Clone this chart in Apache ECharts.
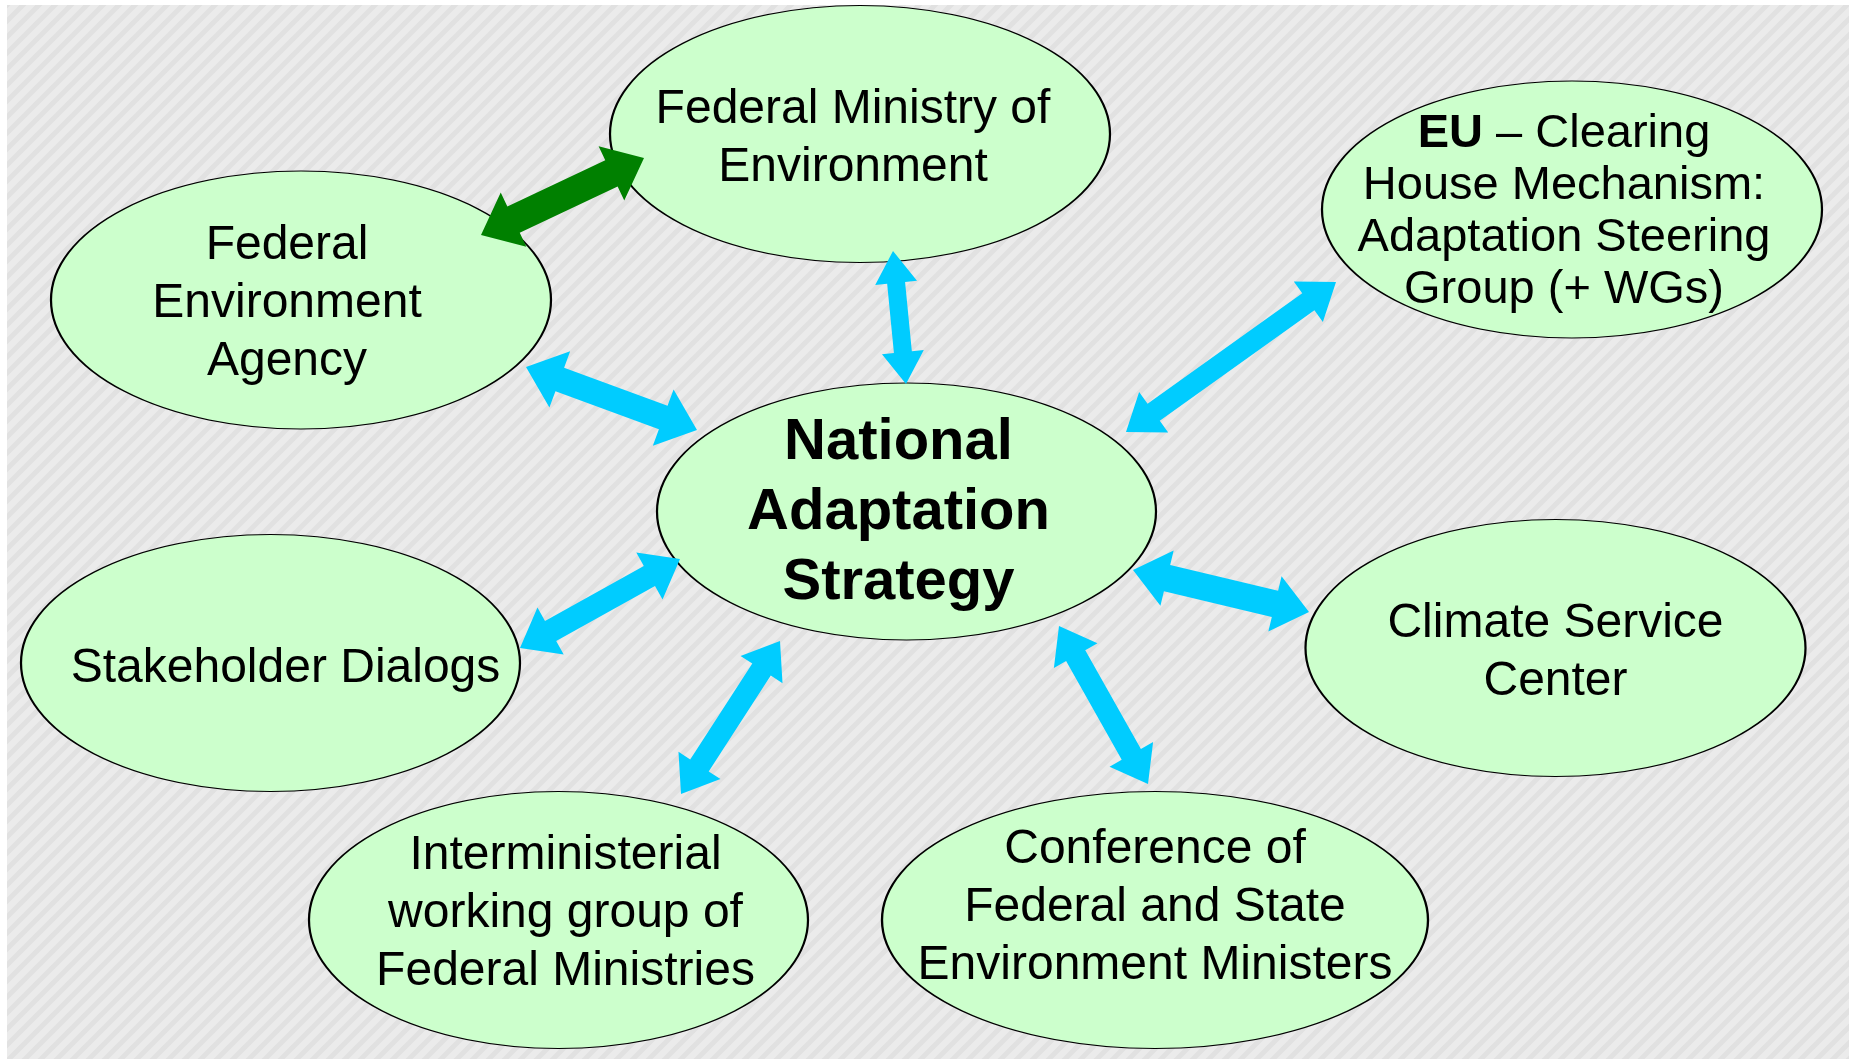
<!DOCTYPE html>
<html>
<head>
<meta charset="utf-8">
<script src="https://cdn.jsdelivr.net/npm/echarts@6/dist/echarts.min.js"></script>
<style>
  html, body { margin: 0; padding: 0; background: #fff; }
  #main { width: 1849px; height: 1059px; }
</style>
</head>
<body>
<div id="main"></div>
<script>
// ellipses of the diagram (centre in picture units)
const nodeNames = ['ministry', 'agency', 'eu', 'national', 'stakeholder', 'climate', 'interministerial', 'conference'];
const nodeLabels = [
  'Federal Ministry of\nEnvironment',
  'Federal\nEnvironment\nAgency',
  '{b|EU} – Clearing\nHouse Mechanism:\nAdaptation Steering\nGroup (+ WGs)',
  'National\nAdaptation\nStrategy',
  'Stakeholder Dialogs',
  'Climate Service\nCenter',
  'Interministerial\nworking group of\nFederal Ministries',
  'Conference of\nFederal and State\nEnvironment Ministers'
];
const nodeX = [860, 301, 1572, 906.5, 270.5, 1555.5, 558.5, 1155];
const nodeY = [134, 300, 209.5, 511.5, 663, 648, 920, 920];

// double headed arrows: start / end points
const arrowStart = [[481, 235], [893, 251], [526, 367], [1336, 282], [520, 648], [681, 794], [1059, 626], [1133, 570]];
const arrowEnd = [[644, 158], [906, 384], [697, 430], [1126, 432], [680, 559], [780, 641], [1148, 784], [1309, 612]];

// styles
const ellipseSize = {
  ministry: [500, 257], agency: [500, 258], eu: [500, 257], national: [499, 257],
  stakeholder: [499, 257], climate: [500, 257], interministerial: [499, 257], conference: [546, 257]
};
const labelOffset = {
  ministry: [-7, 4.5], agency: [-14, 3.5], eu: [-8, 3], national: [-8, 1.5],
  stakeholder: [15, 5.5], climate: [0, 4.5], interministerial: [7, -6.5], conference: [0, -12]
};
// shaft width, head width, head length, colour
const arrowStyle = [
  [29, 60, 36, '#008000'],
  [18, 42, 32, '#00CCFF'],
  [25, 60, 36, '#00CCFF'],
  [21, 50, 34, '#00CCFF'],
  [23, 54, 35, '#00CCFF'],
  [22, 50, 34, '#00CCFF'],
  [22, 50, 34, '#00CCFF'],
  [27, 57, 35, '#00CCFF']
];

function stripeTile() {
  const c = document.createElement('canvas');
  c.width = 16; c.height = 16;
  const ctx = c.getContext('2d');
  ctx.fillStyle = '#ebebeb';
  ctx.fillRect(0, 0, 16, 16);
  ctx.strokeStyle = '#e1e1e1';
  ctx.lineWidth = 5;
  [-16, 0, 16].forEach(function (o) {
    ctx.beginPath();
    ctx.moveTo(o - 4, 20);
    ctx.lineTo(o + 20, -4);
    ctx.stroke();
  });
  return c;
}

var chart = echarts.init(document.getElementById('main'));

const option = {
  animation: false,
  backgroundColor: '#fff',
  grid: { left: 0, right: 0, top: 0, bottom: 0, outerBoundsMode: 'none' },
  xAxis: { type: 'value', min: 0, max: 1849, show: false },
  yAxis: { type: 'value', min: 0, max: 1059, inverse: true, show: false },
  graphic: [
    {
      type: 'rect', left: 7, top: 5, silent: true,
      shape: { width: 1842, height: 1054 },
      style: { fill: { image: stripeTile(), repeat: 'repeat' } }
    }
  ],
  series: [
    {
      type: 'scatter',
      z: 2,
      silent: true,
      symbol: 'circle',
      itemStyle: { color: '#CCFFCC', borderColor: '#000', borderWidth: 1.6, opacity: 1 },
      label: {
        show: true,
        position: 'inside',
        color: '#000',
        fontFamily: 'Liberation Sans, Arial, sans-serif',
        fontSize: 48,
        lineHeight: 58,
        formatter: function (p) { return nodeLabels[p.dataIndex]; },
        rich: {
          b: { fontWeight: 'bold', fontSize: 47, lineHeight: 52, fontFamily: 'Liberation Sans, Arial, sans-serif', color: '#000' }
        }
      },
      data: nodeNames.map(function (n, i) {
        const lab = { offset: labelOffset[n] };
        if (n === 'national') { lab.fontWeight = 'bold'; lab.fontSize = 58; lab.lineHeight = 70; }
        if (n === 'eu') { lab.fontSize = 47; lab.lineHeight = 52; }
        return { name: n, value: [nodeX[i], nodeY[i]], symbolSize: ellipseSize[n], label: lab };
      })
    },
    {
      type: 'custom',
      z: 5,
      silent: true,
      encode: { x: [0, 2], y: [1, 3] },
      data: arrowStart.map(function (s, i) { return [s[0], s[1], arrowEnd[i][0], arrowEnd[i][1]]; }),
      renderItem: function (params, api) {
        const a = api.coord([api.value(0), api.value(1)]);
        const b = api.coord([api.value(2), api.value(3)]);
        const st = arrowStyle[params.dataIndex];
        const dx = b[0] - a[0], dy = b[1] - a[1];
        const len = Math.sqrt(dx * dx + dy * dy);
        const ux = dx / len, uy = dy / len;
        const nx = -uy, ny = ux;
        const s = st[0] / 2, h = st[1] / 2, hl = st[2];
        function pt(base, along, across) {
          return [base[0] + ux * along + nx * across, base[1] + uy * along + ny * across];
        }
        const points = [
          a,
          pt(a, hl, h), pt(a, hl, s),
          pt(b, -hl, s), pt(b, -hl, h),
          b,
          pt(b, -hl, -h), pt(b, -hl, -s),
          pt(a, hl, -s), pt(a, hl, -h)
        ];
        return { type: 'polygon', shape: { points: points }, style: { fill: st[3] } };
      }
    }
  ]
};

chart.setOption(option);
</script>
</body>
</html>
